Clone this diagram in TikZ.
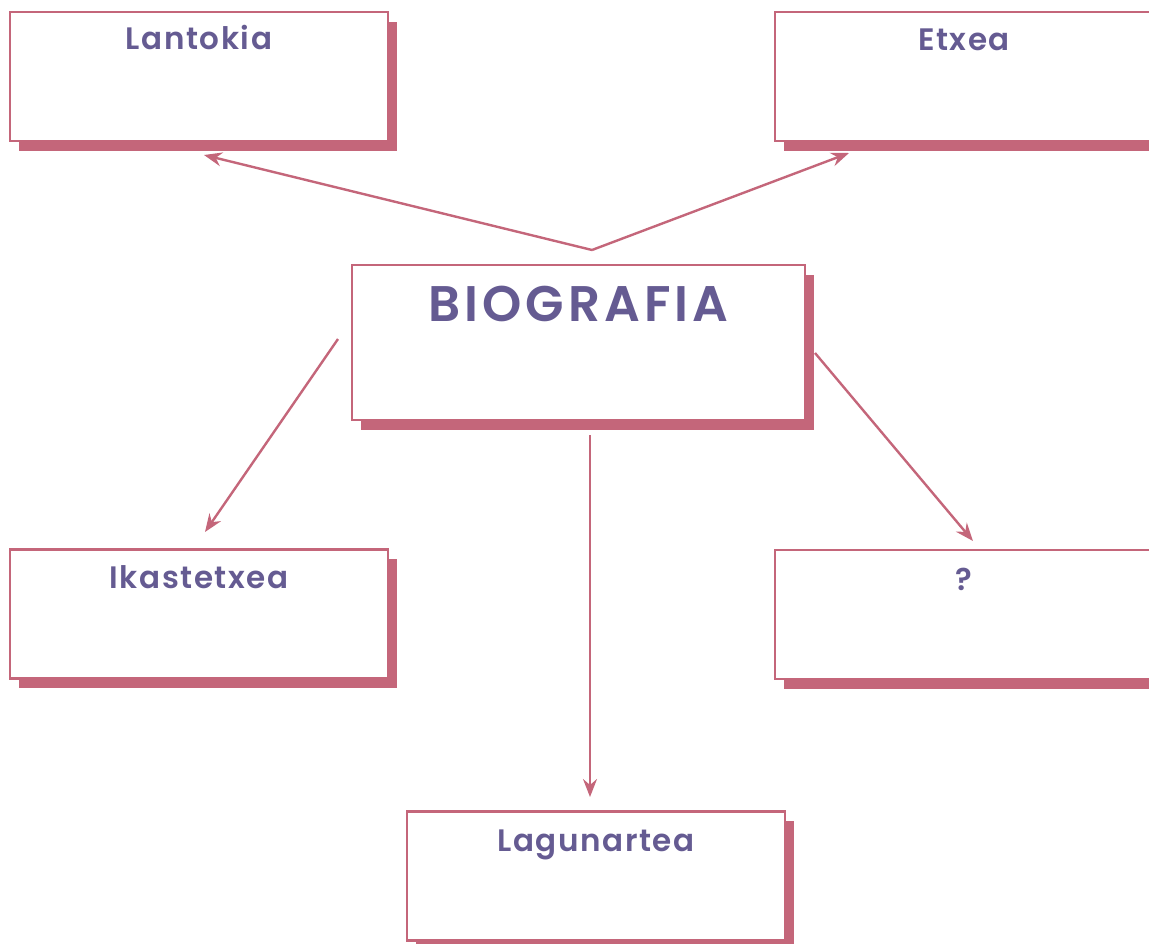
\documentclass[tikz,border=0pt]{standalone}
\usepackage{fontspec}
\newfontfamily\labfont{Poppins SemiBold}[LetterSpace=5]
\newfontfamily\bigfont{Poppins SemiBold}[LetterSpace=8]
\usetikzlibrary{arrows.meta,shadows}
\definecolor{rose}{HTML}{C4667A}
\definecolor{ink}{HTML}{655B92}
\begin{document}
\begin{tikzpicture}[x=1pt,y=1pt,
  box/.style={draw=rose, line width=2.6pt, fill=white, rectangle, inner sep=0pt,
    drop shadow={shadow xshift=8.5pt, shadow yshift=-9.5pt, fill=rose, opacity=1}},
  smallbox/.style={box, minimum width=378pt, minimum height=129pt},
  lab/.style={text=ink, font=\labfont\fontsize{31}{31}\selectfont, anchor=base, inner sep=0pt},
  biglab/.style={lab, font=\bigfont\fontsize{50}{50}\selectfont},
  arr/.style={draw=rose, line width=2.4pt, -{Stealth[length=18pt,width=14pt,inset=6pt]}}]
\useasboundingbox (0,0) rectangle (1149,-943);
\clip (0,0) rectangle (1149,-943);
% boxes
\node[smallbox] (lan) at (199,-76.5) {};
\node[smallbox] (etx) at (964,-76.5) {};
\node[box, minimum width=453pt, minimum height=155pt] (bio) at (578.5,-342.5) {};
\node[smallbox] (ika) at (199,-614) {};
\node[smallbox] (que) at (964,-614.5) {};
\node[smallbox] (lag) at (596,-876) {};
% labels
\node[lab] (lanT) at ([yshift=-39pt]lan.north) {Lantokia};
\node[lab] (etxT) at ([yshift=-40pt]etx.north) {Etxea};
\node[biglab] (bioT) at ([yshift=-58pt]bio.north) {BIOGRAFIA};
\node[lab] (ikaT) at ([yshift=-40pt]ika.north) {Ikastetxea};
\node[lab] (queT) at ([yshift=-42pt]que.north) {?};
\node[lab] (lagT) at ([yshift=-41pt]lag.north) {Lagunartea};
% connector end points
\coordinate (apex) at (592,-250);
\coordinate (lanTip) at (204,-155);
\coordinate (etxTip) at (849,-153);
\coordinate (ikaStart) at (338,-339);
\coordinate (ikaTip) at (205,-532);
\coordinate (queStart) at (815,-353);
\coordinate (queTip) at (973,-541);
\coordinate (lagStart) at (590,-435);
\coordinate (lagTip) at (590,-797);
% connectors
\draw[arr] (apex) -- (lanTip);
\draw[arr] (apex) -- (etxTip);
\draw[arr] (ikaStart) -- (ikaTip);
\draw[arr] (queStart) -- (queTip);
\draw[arr] (lagStart) -- (lagTip);
\end{tikzpicture}
\end{document}
